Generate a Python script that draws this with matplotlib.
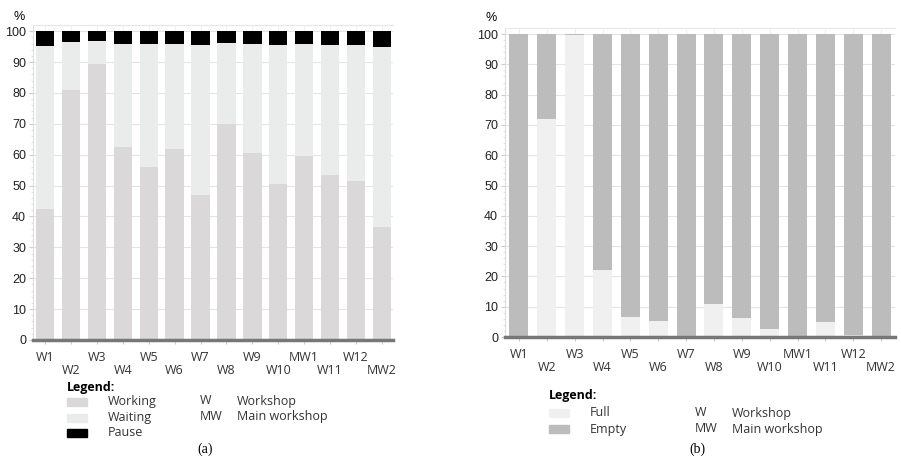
import numpy as np
import matplotlib.pyplot as plt
from matplotlib.patches import Rectangle

# data
sites = ['W1', 'W2', 'W3', 'W4', 'W5', 'W6', 'W7', 'W8', 'W9', 'W10',
         'MW1', 'W11', 'W12', 'MW2']
working = [42.5, 81, 89.5, 62.5, 56, 62, 47, 70, 60.5, 50.5, 59.5, 53.5, 51.5, 36.5]
waiting_top = [95.2, 96.6, 96.8, 95.9, 95.7, 95.9, 95.4, 96.1, 95.8, 95.4, 95.8, 95.5, 95.5, 95.0]
waiting = [t - w for t, w in zip(waiting_top, working)]
pause = [100 - t for t in waiting_top]

full = [0, 72, 99.7, 22, 6.5, 5.2, 0, 10.8, 6.2, 2.5, 0, 4.8, 0.8, 0]
empty = [100 - f for f in full]

c_work, c_wait, c_pause = '#dad8d8', '#eaecec', '#000000'
c_full, c_empty = '#f0f0f0', '#bcbcbc'

W, H = 901, 458
fig = plt.figure(figsize=(W / 100, H / 100), dpi=100)
lab_font = ['Open Sans', 'DejaVu Sans']
num_font = ['Liberation Sans', 'DejaVu Sans']


def px_axes(x0, y_top, x1, y_bot):
    return fig.add_axes([x0 / W, 1 - y_bot / H, (x1 - x0) / W, (y_bot - y_top) / H])


def style(ax, xlim):
    x = np.arange(len(sites))
    ax.set_xlim(*xlim)
    ax.set_ylim(0, 102)
    ax.set_yticks(np.arange(0, 101, 10))
    ax.set_yticks(np.arange(0, 101, 2), minor=True)
    ax.set_axisbelow(True)
    ax.grid(axis='y', color='#e4e4e4', lw=0.8)
    ax.grid(axis='x', color='#f0f0f0', lw=0.8)
    ax.set_xticks(x)
    ax.set_xticklabels([('' if i % 2 == 0 else '\n') + s for i, s in enumerate(sites)],
                       family=lab_font, fontsize=9, color='#333333', linespacing=1.0)
    ax.tick_params(axis='x', length=3, color='#cccccc', pad=5)
    ax.tick_params(axis='y', length=3, color='#cccccc', labelsize=9, labelcolor='#222222', pad=2)
    ax.tick_params(axis='y', which='minor', length=1.5, color='#dddddd')
    for t in ax.get_yticklabels():
        t.set_family(num_font)
    for s in ['top', 'right']:
        ax.spines[s].set_color('#e6e6e6')
    ax.spines['left'].set_color('#dddddd')
    ax.spines['bottom'].set_color('#777777')
    ax.spines['bottom'].set_linewidth(2.5)
    ax.spines['right'].set_visible(False)


# (a)
ax1 = px_axes(33, 25, 393, 340)
x = np.arange(len(sites))
ax1.bar(x, working, 0.71, color=c_work)
ax1.bar(x, waiting, 0.71, bottom=working, color=c_wait)
ax1.bar(x, pause, 0.71, bottom=waiting_top, color=c_pause)
style(ax1, (-0.47, 13.43))
fig.text(13 / W, 1 - 17 / H, '%', fontsize=9, family=num_font, va='center')

# (b)
ax2 = px_axes(505, 28, 895, 337)
ax2.bar(x, full, 0.68, color=c_full)
ax2.bar(x, empty, 0.68, bottom=full, color=c_empty)
style(ax2, (-0.5, 13.5))
fig.text(486 / W, 1 - 18 / H, '%', fontsize=9, family=num_font, va='center')


def legend(x0, y0, first, step, items, x_abbr, y_abbr):
    fig.text(x0 / W, 1 - y0 / H, 'Legend:', fontsize=9, weight='bold',
             family=lab_font, va='center')
    for i, (lab, col) in enumerate(items):
        yy = first + i * step
        fig.add_artist(Rectangle((x0 / W, 1 - (yy + 4) / H), 20 / W, 8 / H,
                                 color=col, transform=fig.transFigure))
        fig.text((x0 + 41) / W, 1 - yy / H, lab, fontsize=9, family=lab_font,
                 va='center', color='#333333')
    for i, (a, b) in enumerate([('W', 'Workshop'), ('MW', 'Main workshop')]):
        yy = y_abbr + i * step
        fig.text(x_abbr / W, 1 - yy / H, a, fontsize=9, family=lab_font, va='center', color='#333333')
        fig.text((x_abbr + 37) / W, 1 - yy / H, b, fontsize=9, family=lab_font, va='center', color='#333333')


legend(67, 388, 402, 15.5, [('Working', c_work), ('Waiting', c_wait), ('Pause', c_pause)], 200, 401)
legend(549, 395, 413, 16, [('Full', c_full), ('Empty', c_empty)], 695, 413)
fig.text(205 / W, 1 - 449 / H, '(a)', fontsize=10, family='Liberation Serif', ha='center', va='center')
fig.text(697 / W, 1 - 449 / H, '(b)', fontsize=10, family='Liberation Serif', ha='center', va='center')

fig.savefig('out.png', dpi=100)
